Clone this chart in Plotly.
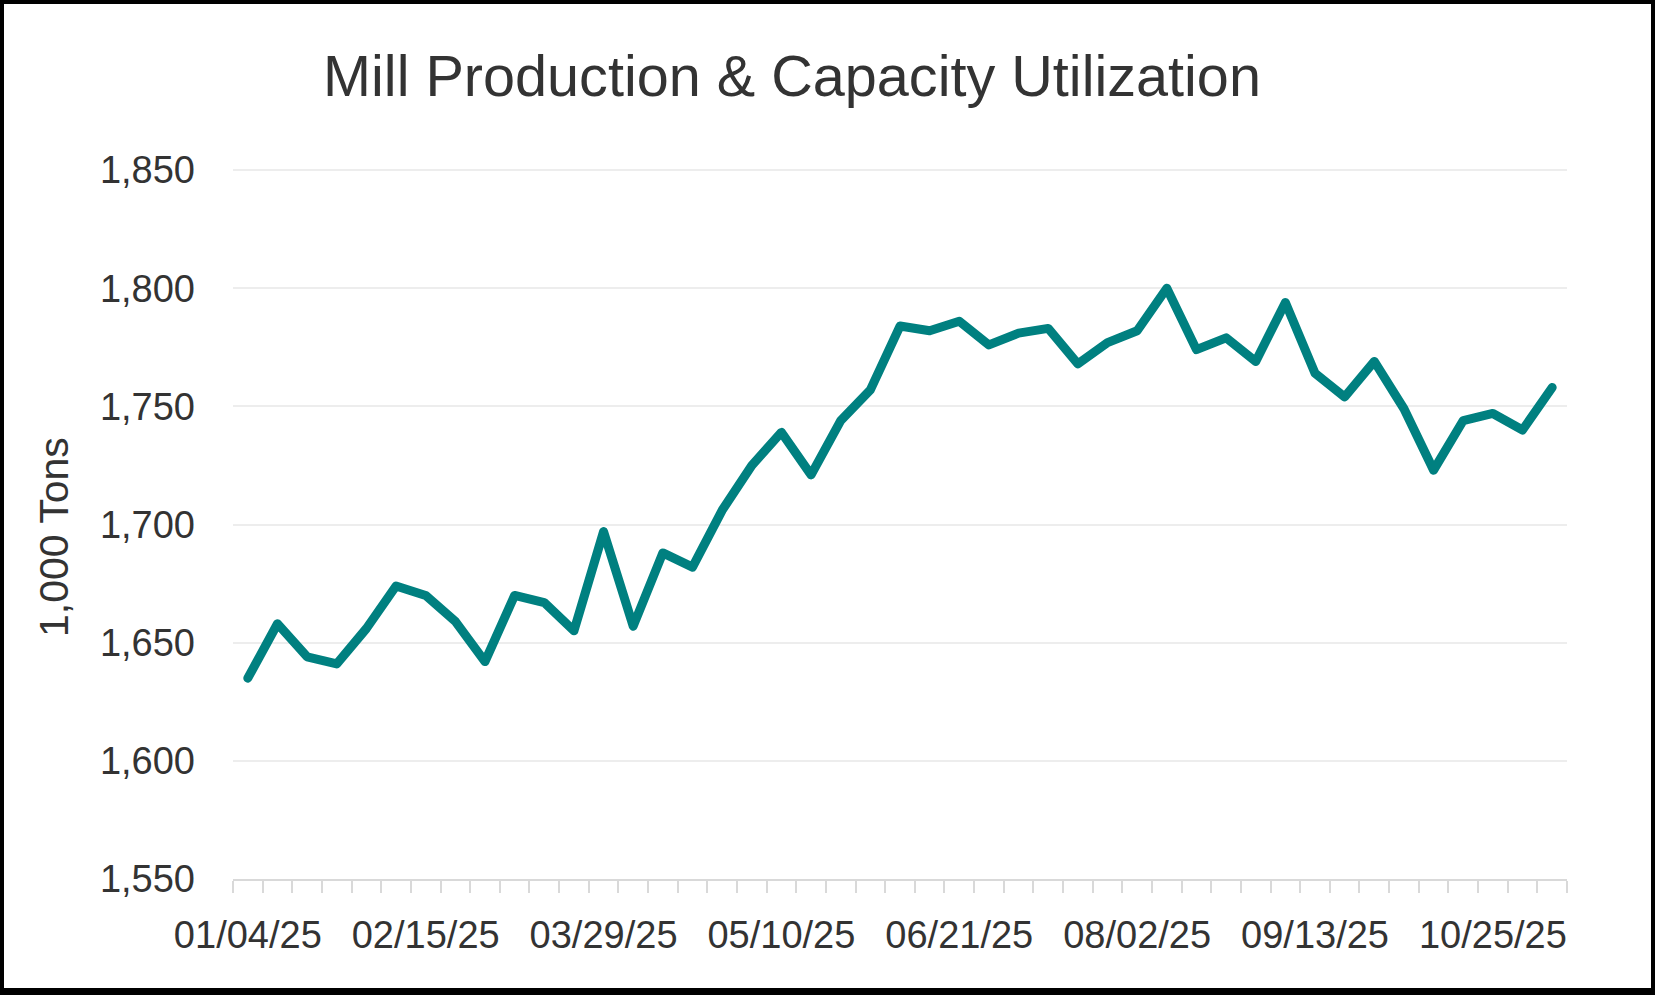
import plotly.graph_objects as go

# ---------------- data ----------------
week_dates = [
    "2025-01-04", "2025-01-11", "2025-01-18", "2025-01-25", "2025-02-01", "2025-02-08",
    "2025-02-15", "2025-02-22", "2025-03-01", "2025-03-08", "2025-03-15", "2025-03-22",
    "2025-03-29", "2025-04-05", "2025-04-12", "2025-04-19", "2025-04-26", "2025-05-03",
    "2025-05-10", "2025-05-17", "2025-05-24", "2025-05-31", "2025-06-07", "2025-06-14",
    "2025-06-21", "2025-06-28", "2025-07-05", "2025-07-12", "2025-07-19", "2025-07-26",
    "2025-08-02", "2025-08-09", "2025-08-16", "2025-08-23", "2025-08-30", "2025-09-06",
    "2025-09-13", "2025-09-20", "2025-09-27", "2025-10-04", "2025-10-11", "2025-10-18",
    "2025-10-25", "2025-11-01", "2025-11-08",
]
production = [
    1635, 1658, 1644, 1641, 1656, 1674, 1670, 1659, 1642, 1670, 1667, 1655,
    1697, 1657, 1688, 1682, 1706, 1725, 1739, 1721, 1744, 1757, 1784, 1782,
    1786, 1776, 1781, 1783, 1768, 1777, 1782, 1800, 1774, 1779, 1769, 1794,
    1764, 1754, 1769, 1749, 1723, 1744, 1747, 1740, 1758,
]
label_dates = ["2025-01-04", "2025-02-15", "2025-03-29", "2025-05-10",
               "2025-06-21", "2025-08-02", "2025-09-13", "2025-10-25"]
label_text = ["01/04/25", "02/15/25", "03/29/25", "05/10/25",
              "06/21/25", "08/02/25", "09/13/25", "10/25/25"]
y_ticks = [1550, 1600, 1650, 1700, 1750, 1800, 1850]

title_text = "Mill Production & Capacity Utilization"
y_title = "1,000 Tons"

# ---------------- layout geometry ----------------
W, H = 1655, 995
ML, MR, MT, MB = 233, 88, 169, 116
PW, PH = W - ML - MR, H - MT - MB


def px_x(px):
    return (px - ML) / PW


def px_y(py):
    return (H - MB - py) / PH


FONT = "Liberation Sans, Arial, sans-serif"
TXT = "#333333"
AXC = "#d9d9d9"
GRID = "#ededed"

fig = go.Figure()
fig.add_trace(go.Scatter(
    x=week_dates, y=production, mode="lines",
    line=dict(color="#008080", width=9),
    showlegend=False, hoverinfo="x+y",
))

fig.update_layout(
    width=W, height=H, autosize=False,
    margin=dict(l=ML, r=MR, t=MT, b=MB, autoexpand=False),
    paper_bgcolor="white", plot_bgcolor="white",
    font=dict(family=FONT, color=TXT),
    title=dict(text=title_text, xref="container", yref="container",
               x=792 / W, y=1 - 76 / H, xanchor="center", yanchor="middle",
               font=dict(family=FONT, size=57.6, color=TXT)),
    xaxis=dict(
        type="date",
        range=["2024-12-31 12:00", "2025-11-11 12:00"],
        tickmode="array", tickvals=label_dates, ticktext=label_text,
        ticks="", showgrid=False, zeroline=False,
        showline=True, linecolor=AXC, linewidth=1.5,
        tickfont=dict(family=FONT, size=38, color=TXT),
        ticklabelstandoff=22,
        minor=dict(ticks="outside", ticklen=12, tickcolor=AXC, tickwidth=1.5,
                   tick0="2024-12-31 12:00", dtick=7 * 86400000, showgrid=False),
    ),
    yaxis=dict(
        range=[y_ticks[0], y_ticks[-1] + 0.45], tickmode="array", tickvals=y_ticks,
        tickformat=",d", ticks="", showline=False, zeroline=False,
        showgrid=True, gridcolor=GRID, gridwidth=1.5,
        tickfont=dict(family=FONT, size=38, color=TXT),
        ticklabelstandoff=37,
    ),
)

fig.add_annotation(
    text=y_title, xref="paper", yref="paper",
    x=px_x(54), y=px_y(537), xanchor="center", yanchor="middle",
    textangle=-90, showarrow=False,
    font=dict(family=FONT, size=41, color=TXT),
)

# black frame around the chart
frame = [(0, 0, W, 4), (0, 0, 4, H), (W - 4, 0, W, H), (0, H - 7, W, H)]
for x0, y0, x1, y1 in frame:
    fig.add_shape(type="rect", xref="paper", yref="paper",
                  x0=px_x(x0), x1=px_x(x1), y0=px_y(y1), y1=px_y(y0),
                  fillcolor="black", line=dict(width=0), layer="above")

post_js = (
    "document.body.style.margin='0';"
    "var st=document.createElement('style');"
    "st.textContent='.scatterlayer path.js-line{stroke-linejoin:round !important;stroke-linecap:round !important;}';"
    "document.head.appendChild(st);"
)

fig.write_html("out.html", post_script=post_js, config={"displayModeBar": False})
